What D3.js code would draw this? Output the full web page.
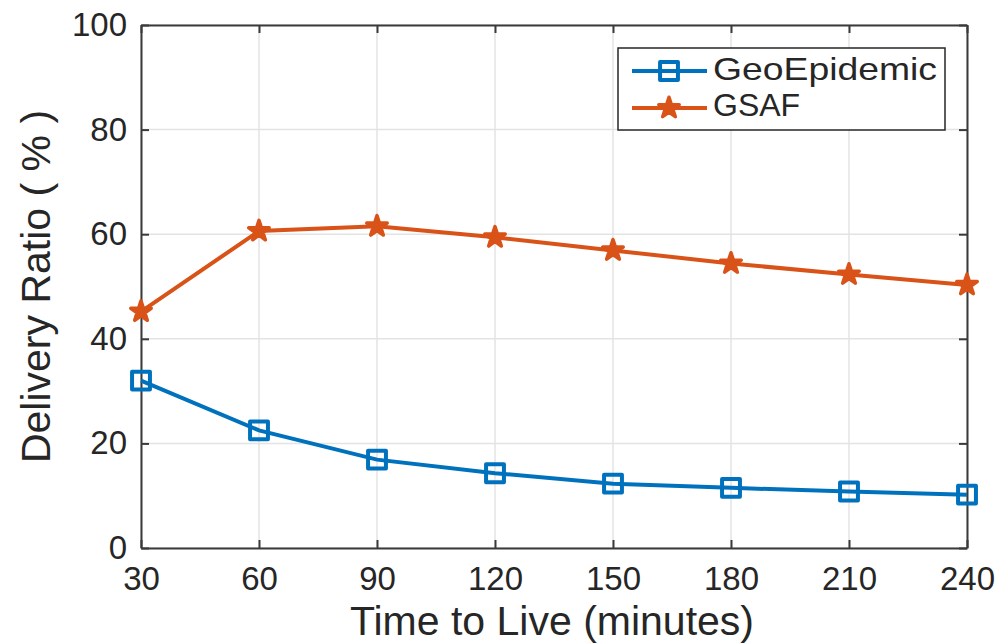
<!DOCTYPE html>
<html>
<head>
<meta charset="utf-8">
<script src="https://cdn.jsdelivr.net/npm/d3@7"></script>
<style>
  body { margin: 0; background: #fff; }
  text { font-family: "Liberation Sans", Arial, sans-serif; fill: #262626; }
</style>
</head>
<body>
<svg id="chart" width="1001" height="643"></svg>
<script>
const ttl = [30, 60, 90, 120, 150, 180, 210, 240];
const geoEpidemic = [32, 22.5, 16.9, 14.3, 12.3, 11.5, 10.8, 10.2];
const gsaf = [45.2, 60.6, 61.5, 59.4, 56.9, 54.4, 52.3, 50.3];
const yTicks = [0, 20, 40, 60, 80, 100];

const margin = { top: 25, right: 34, bottom: 95, left: 141 };
const width = 1001, height = 643;
const w = width - margin.left - margin.right;
const h = height - margin.top - margin.bottom;

const svg = d3.select('#chart');
const g = svg.append('g').attr('transform', 'translate(' + margin.left + ',' + margin.top + ')');

const x = d3.scaleLinear().domain([30, 240]).range([0, w]);
const y = d3.scaleLinear().domain([0, 100]).range([h, 0]);

// grid
g.append('g').selectAll('line').data(ttl).enter().append('line')
  .attr('x1', d => x(d)).attr('x2', d => x(d)).attr('y1', 0).attr('y2', h)
  .attr('stroke', '#e3e3e3').attr('stroke-width', 1.5);
g.append('g').selectAll('line').data(yTicks).enter().append('line')
  .attr('x1', 0).attr('x2', w).attr('y1', d => y(d)).attr('y2', d => y(d))
  .attr('stroke', '#e3e3e3').attr('stroke-width', 1.5);

// axes (ticks inward)
const xAxis = d3.axisBottom(x).tickValues(ttl).tickSize(-8).tickPadding(19).tickSizeOuter(0);
const yAxis = d3.axisLeft(y).tickValues(yTicks).tickSize(-8).tickPadding(14).tickSizeOuter(0);
const xTop = d3.axisTop(x).tickValues(ttl).tickSize(-8).tickFormat('').tickSizeOuter(0);
const yRight = d3.axisRight(y).tickValues(yTicks).tickSize(-8).tickFormat('').tickSizeOuter(0);

function styleAxis(sel) {
  sel.selectAll('path, line').attr('stroke', '#3a3a3a').attr('stroke-width', 2);
  sel.selectAll('text').style('font-size', '33px').attr('fill', '#262626');
}
g.append('g').attr('transform', 'translate(0,' + h + ')').call(xAxis).call(styleAxis);
g.append('g').call(yAxis).call(styleAxis);
g.append('g').call(xTop).call(styleAxis);
g.append('g').attr('transform', 'translate(' + w + ',0)').call(yRight).call(styleAxis);

// lines
const line = d3.line().x((d, i) => x(ttl[i])).y(d => y(d));
const blue = '#0072bd', orange = '#d95319';

g.append('path').datum(geoEpidemic).attr('d', line)
  .attr('fill', 'none').attr('stroke', blue).attr('stroke-width', 4);
g.append('path').datum(gsaf).attr('d', line)
  .attr('fill', 'none').attr('stroke', orange).attr('stroke-width', 4);

const square = d3.symbol().type(d3.symbolSquare).size(320);
const star = d3.symbol().type(d3.symbolStar).size(130);

g.selectAll('.sq').data(geoEpidemic).enter().append('path')
  .attr('class', 'sq')
  .attr('transform', (d, i) => 'translate(' + x(ttl[i]) + ',' + y(d) + ')')
  .attr('d', square).attr('fill', 'none').attr('stroke', blue).attr('stroke-width', 4)
  .attr('stroke-linejoin', 'round');
g.selectAll('.st').data(gsaf).enter().append('path')
  .attr('class', 'st')
  .attr('transform', (d, i) => 'translate(' + x(ttl[i]) + ',' + y(d) + ')')
  .attr('d', star).attr('fill', orange).attr('stroke', orange).attr('stroke-width', 3.5)
  .attr('stroke-linejoin', 'round');

// legend
const lg = svg.append('g').attr('transform', 'translate(618,48)');
lg.append('rect').attr('width', 327).attr('height', 82)
  .attr('fill', '#fff').attr('stroke', '#262626').attr('stroke-width', 1.5);
const series = [
  { name: 'GeoEpidemic', color: blue, sym: square, fill: 'none', len: 224 },
  { name: 'GSAF', color: orange, sym: star, fill: orange, len: null }
];
series.forEach((s, i) => {
  const cy = 23 + i * 37;
  lg.append('line').attr('x1', 14).attr('x2', 89).attr('y1', cy).attr('y2', cy)
    .attr('stroke', s.color).attr('stroke-width', 4);
  lg.append('path').attr('transform', 'translate(51,' + cy + ')')
    .attr('d', s.sym).attr('fill', s.fill).attr('stroke', s.color)
    .attr('stroke-width', s.fill === 'none' ? 4 : 3.5).attr('stroke-linejoin', 'round');
  const t = lg.append('text').attr('x', 95).attr('y', 32 + i * 36).style('font-size', '32px').text(s.name);
  if (s.len) t.attr('textLength', s.len).attr('lengthAdjust', 'spacingAndGlyphs');
});

// axis titles
svg.append('text').attr('x', margin.left + w / 2 - 2).attr('y', 635)
  .attr('text-anchor', 'middle').style('font-size', '41px').text('Time to Live (minutes)');
svg.append('text').attr('transform', 'translate(50,' + (margin.top + h / 2) + ') rotate(-90)')
  .attr('text-anchor', 'middle').style('font-size', '41px').text('Delivery Ratio ( % )');
</script>
</body>
</html>
